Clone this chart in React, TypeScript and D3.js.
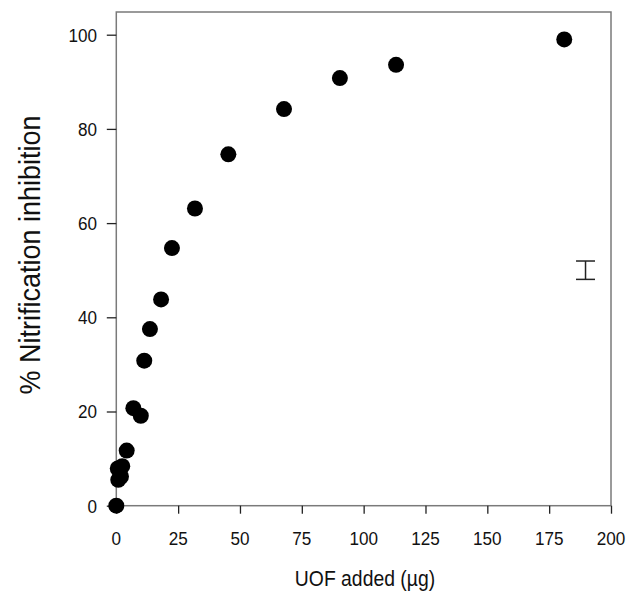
import { useEffect, useRef } from 'react';
import * as d3 from 'd3';

// UOF dose (µg) vs % nitrification inhibition
const doseUg = [0, 0.6, 0.8, 1.9, 2.4, 4.2, 6.9, 9.9, 11.3, 13.6, 18.1, 22.5, 31.8, 45.3, 67.8, 90.4, 113.1, 181.1];
const inhibition = [0, 7.9, 5.5, 6.2, 8.4, 11.7, 20.7, 19.1, 30.8, 37.5, 43.8, 54.7, 63.1, 74.6, 84.2, 90.8, 93.6, 99.0];

const xTicks = [0, 25, 50, 75, 100, 125, 150, 175, 200];
const yTicks = [0, 20, 40, 60, 80, 100];

// representative error bar (mean ± half-width), drawn at x = 190
const errBar = { x: 189.7, mean: 50, half: 1.95 };

const App = () => {
  const svgRef = useRef<SVGSVGElement>(null);

  useEffect(() => {
    const W = 633;
    const H = 605;
    const left = 116.3, right = 611, top = 12, bottom = 505.7;

    const svg = d3.select(svgRef.current);
    svg.selectAll('*').remove();
    svg.attr('width', W).attr('height', H);

    const x = d3.scaleLinear().domain([0, 200]).range([left, right]);
    const y = d3.scaleLinear().domain([0, 100]).range([bottom, 34.7]);

    const font = '"Liberation Sans", Arial, sans-serif';
    const narrow = 0.9; // labels in the original are slightly condensed

    // frame
    svg.append('rect')
      .attr('x', left).attr('y', top)
      .attr('width', right - left).attr('height', bottom - top)
      .attr('fill', 'none')
      .attr('stroke', '#7a7a7a')
      .attr('stroke-width', 1.5);

    // tick marks
    const gx = svg.append('g').attr('transform', `translate(0,${bottom})`);
    gx.call(d3.axisBottom(x).tickValues(xTicks).tickSize(8).tickFormat(() => ''));
    gx.select('.domain').remove();
    gx.selectAll('line').attr('stroke', '#222').attr('stroke-width', 1.3);

    const gy = svg.append('g').attr('transform', `translate(${left},0)`);
    gy.call(d3.axisLeft(y).tickValues(yTicks).tickSize(9.5).tickFormat(() => ''));
    gy.select('.domain').remove();
    gy.selectAll('line').attr('stroke', '#222').attr('stroke-width', 1.3);

    // tick labels
    svg.append('g')
      .selectAll('g')
      .data(xTicks)
      .join('g')
      .attr('transform', d => `translate(${x(d)},545)`)
      .append('text')
      .attr('transform', `scale(${narrow},1)`)
      .attr('text-anchor', 'middle')
      .attr('font-family', font)
      .attr('font-size', 19)
      .attr('fill', '#111')
      .text(d => d);

    svg.append('g')
      .selectAll('g')
      .data(yTicks)
      .join('g')
      .attr('transform', d => `translate(97,${y(d) + 6.8})`)
      .append('text')
      .attr('transform', `scale(${narrow},1)`)
      .attr('text-anchor', 'end')
      .attr('font-family', font)
      .attr('font-size', 19)
      .attr('fill', '#111')
      .text(d => d);

    // error bar
    const eb = svg.append('g').attr('stroke', '#222').attr('stroke-width', 1.5);
    const ex = x(errBar.x);
    const eTop = y(errBar.mean + errBar.half);
    const eBot = y(errBar.mean - errBar.half);
    eb.append('line').attr('x1', ex).attr('x2', ex).attr('y1', eTop).attr('y2', eBot);
    eb.append('line').attr('x1', ex - 9.5).attr('x2', ex + 9.5).attr('y1', eTop).attr('y2', eTop);
    eb.append('line').attr('x1', ex - 9.5).attr('x2', ex + 9.5).attr('y1', eBot).attr('y2', eBot);

    // points
    const pts = doseUg.map((d, i) => ({ dose: d, inh: inhibition[i] }));
    svg.append('g')
      .selectAll('circle')
      .data(pts)
      .join('circle')
      .attr('cx', d => x(d.dose))
      .attr('cy', d => y(d.inh))
      .attr('r', 8)
      .attr('fill', '#000');

    // axis titles
    svg.append('text')
      .attr('transform', 'translate(365,586) scale(0.88,1)')
      .attr('text-anchor', 'middle')
      .attr('font-family', font)
      .attr('font-size', 22)
      .attr('fill', '#111')
      .text('UOF added (\u00b5g)');

    svg.append('text')
      .attr('transform', 'translate(40,255) rotate(-90) scale(0.93,1)')
      .attr('text-anchor', 'middle')
      .attr('font-family', font)
      .attr('font-size', 29)
      .attr('fill', '#111')
      .text('% Nitrification inhibition');
  }, []);

  return <svg ref={svgRef} style={{ position: 'absolute', left: 0, top: 0 }}></svg>;
};

export default App;
